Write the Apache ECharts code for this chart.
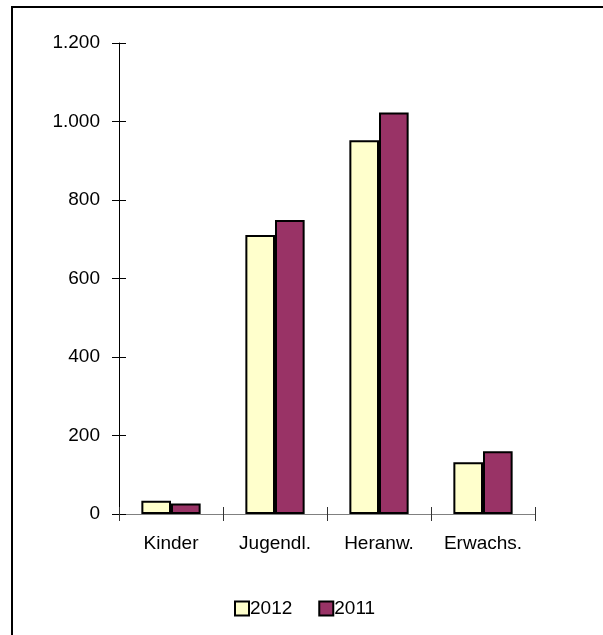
<!DOCTYPE html>
<html>
<head>
<meta charset="utf-8">
<script src="https://cdn.jsdelivr.net/npm/echarts@6/dist/echarts.min.js"></script>
<style>
html,body{margin:0;padding:0;background:#fff;}
#c{width:603px;height:635px;}
</style>
</head>
<body>
<div id="c"></div>
<script>
const categories = ['Kinder', 'Jugendl.', 'Heranw.', 'Erwachs.'];
const values2012 = [34, 711, 952, 132];
const values2011 = [27, 749, 1023, 160];
const seriesNames = ['2012', '2011'];

const FONT = '"Liberation Sans", Arial, sans-serif';
function fmt(v){ return String(v).replace(/\B(?=(\d{3})+(?!\d))/g, '.'); }

const chart = echarts.init(document.getElementById('c'), null, {renderer:'canvas'});
chart.setOption({
  animation: false,
  backgroundColor: '#ffffff',
  graphic: [{
    type: 'rect',
    shape: {x: 12, y: 7, width: 700, height: 700},
    style: {fill: 'none', stroke: '#000', lineWidth: 2},
    silent: true
  }],
  grid: {left: 119, right: 68, top: 43, bottom: 121, containLabel: false},
  legend: {
    data: seriesNames,
    left: 229, top: 594,
    itemWidth: 14, itemHeight: 14, itemGap: 26,
    icon: 'rect',
    textStyle: {fontFamily: FONT, fontSize: 19, color: '#000', padding: [0,0,0,-4]}
  },
  xAxis: [{
    type: 'category', data: categories,
    axisLine: {lineStyle: {color: '#808080', width: 1}},
    axisTick: {show: true, length: 7, lineStyle: {color: '#333'}},
    axisLabel: {fontFamily: FONT, fontSize: 19, color: '#000', margin: 20}
  }, {
    type: 'category', data: categories, position: 'bottom',
    axisLine: {show: false},
    axisTick: {show: true, inside: true, length: 7, lineStyle: {color: '#333'}},
    axisLabel: {show: false}
  }],
  yAxis: [{
    type: 'value', min: 0, max: 1200, interval: 200,
    axisLine: {show: true, lineStyle: {color: '#000', width: 1}},
    axisTick: {show: true, length: 7, lineStyle: {color: '#000'}},
    splitLine: {show: false},
    axisLabel: {fontFamily: FONT, fontSize: 19, color: '#000', margin: 19, formatter: fmt}
  }, {
    type: 'value', min: 0, max: 1200, interval: 200, position: 'left',
    axisLine: {show: false},
    axisTick: {show: true, inside: true, length: 7, lineStyle: {color: '#000'}},
    splitLine: {show: false},
    axisLabel: {show: false}
  }],
  series: [{
    name: seriesNames[0], type: 'bar', data: values2012,
    barGap: '0%', barCategoryGap: '43%',
    itemStyle: {color: '#FFFFCC', borderColor: '#000', borderWidth: 2}
  }, {
    name: seriesNames[1], type: 'bar', data: values2011,
    barGap: '0%', barCategoryGap: '43%',
    itemStyle: {color: '#993366', borderColor: '#000', borderWidth: 2}
  }]
});
</script>
</body>
</html>
